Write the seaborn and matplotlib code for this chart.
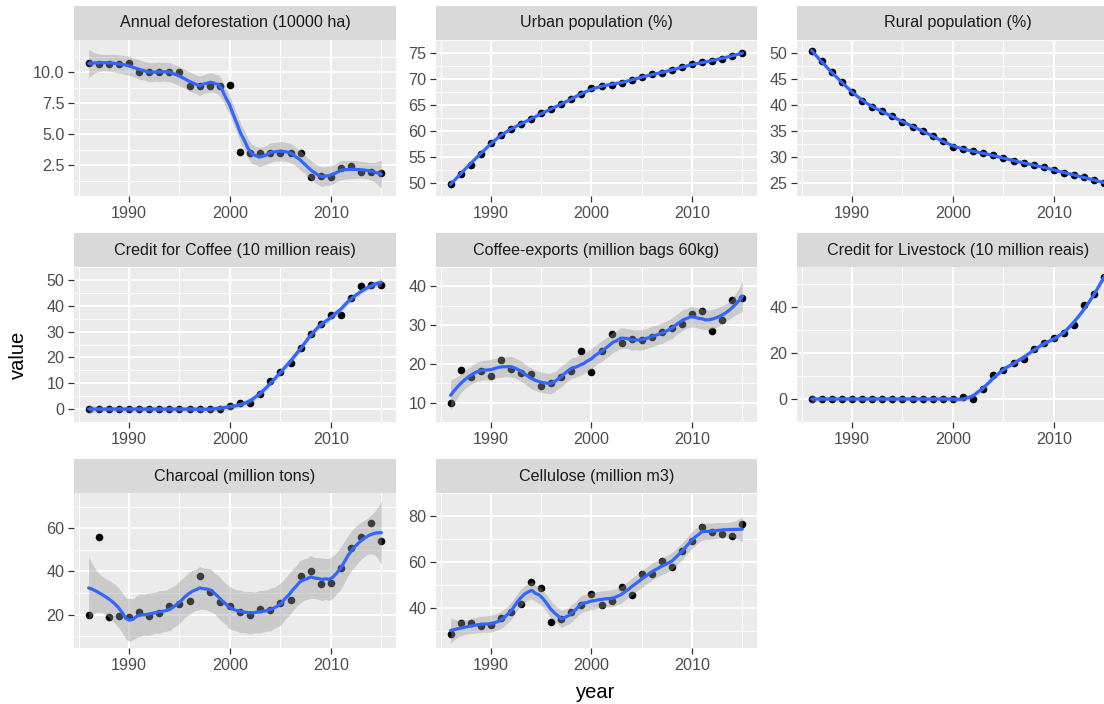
import numpy as np
import pandas as pd
import matplotlib
matplotlib.use("Agg")
import matplotlib.pyplot as plt
import seaborn as sns

# ---------------- data ----------------
years = list(range(1986, 2016))

titles = [
    "Annual deforestation (10000 ha)",
    "Urban population (%)",
    "Rural population (%)",
    "Credit for Coffee (10 million reais)",
    "Coffee-exports (million bags 60kg)",
    "Credit for Livestock (10 million reais)",
    "Charcoal (million tons)",
    "Cellulose (million m3)",
]

deforestation = [10.75, 10.7, 10.7, 10.7, 10.75, 10.0, 10.0, 10.0, 10.0, 10.05,
                 8.9, 8.9, 8.9, 8.9, 8.95, 3.55, 3.5, 3.5, 3.5, 3.5,
                 3.5, 3.45, 1.56, 1.6, 1.56, 2.23, 2.4, 1.9, 1.9, 1.85]
urban = [49.8, 51.8, 53.45, 55.6, 57.6, 59.3, 60.3, 61.3, 62.3, 63.4,
         64.2, 65.2, 66.1, 67.1, 68.2, 68.6, 68.9, 69.3, 69.8, 70.4,
         70.9, 71.2, 71.7, 72.3, 72.8, 73.2, 73.5, 73.9, 74.5, 75.0]
rural = [50.4, 48.4, 46.3, 44.5, 42.5, 40.8, 39.7, 38.8, 37.8, 36.8,
         35.8, 35.0, 34.1, 33.0, 32.0, 31.6, 31.1, 30.7, 30.3, 29.8,
         29.3, 28.8, 28.5, 28.0, 27.5, 27.0, 26.5, 26.1, 25.6, 25.0]
coffee_credit = [0, 0, 0, 0, 0, 0, 0, 0, 0, 0, 0, 0, 0, 0,
                 1.2, 2.2, 2.5, 5.7, 10.8, 14.3, 18.0, 23.5, 28.9, 32.8,
                 36.6, 36.6, 42.9, 47.8, 48.2, 48.2]
coffee_exports = [10.0, 18.4, 16.7, 18.1, 16.9, 21.1, 18.8, 17.7, 17.3, 14.2,
                  15.1, 16.6, 18.1, 23.2, 17.8, 23.2, 27.8, 25.4, 26.3, 26.1,
                  27.0, 28.1, 29.3, 30.2, 33.0, 33.7, 28.4, 31.3, 36.4, 37.0]
livestock_credit = [0, 0, 0, 0, 0, 0, 0, 0, 0, 0, 0, 0, 0, 0, 0,
                    0.8, 0.1, 4.3, 10.6, 12.6, 15.5, 17.4, 21.6, 24.4, 26.4,
                    28.6, 32.3, 40.7, 45.6, 52.9]
charcoal = [20.0, 56.1, 18.8, 19.5, 18.8, 21.4, 19.4, 20.6, 24.0, 24.9,
            26.5, 38.1, 30.3, 25.7, 24.2, 21.4, 20.0, 22.5, 22.2, 25.3,
            26.8, 38.1, 40.2, 34.4, 34.8, 41.5, 51.0, 56.1, 62.6, 54.1]
cellulose = [28.6, 33.5, 33.5, 32.2, 32.6, 35.5, 38.1, 41.7, 51.3, 48.8,
             33.9, 35.1, 38.3, 41.3, 46.1, 41.3, 43.2, 49.1, 45.8, 54.7,
             54.7, 60.5, 57.8, 64.9, 69.2, 75.3, 72.9, 72.1, 71.4, 76.4]

series = [deforestation, urban, rural, coffee_credit, coffee_exports,
          livestock_credit, charcoal, cellulose]
y_breaks = [[2.5, 5.0, 7.5, 10.0], [50, 55, 60, 65, 70, 75], [25, 30, 35, 40, 45, 50],
            [0, 10, 20, 30, 40, 50], [10, 20, 30, 40], [0, 20, 40], [20, 40, 60], [40, 60, 80]]
y_limits = [(0.0, 12.6), (48.3, 76.6), (23.7, 52.0), (-4.1, 53.2),
            (6.4, 43.1), (-3.7, 57.3), (4.6, 76.3), (22.6, 83.0)]
x_breaks = [1990, 2000, 2010]
SPAN = 0.3


# ---------------- loess (local quadratic, tricube) ----------------
def loess_operator(x, x0s, span):
    n = len(x)
    q = int(np.floor(n * span))
    rows = []
    for x0 in x0s:
        d = np.abs(x - x0)
        h = np.sort(d)[q - 1] * 1.0001
        u = np.clip(d / h, 0, 1)
        w = (1 - u ** 3) ** 3
        X = np.column_stack([np.ones(n), x - x0, (x - x0) ** 2])
        XtW = X.T * w
        A = XtW @ X
        rows.append(np.linalg.solve(A, XtW)[0])
    return np.array(rows)


def t975(df):
    z = 1.959964
    g1 = (z ** 3 + z) / 4
    g2 = (5 * z ** 5 + 16 * z ** 3 + 3 * z) / 96
    g3 = (3 * z ** 7 + 19 * z ** 5 + 17 * z ** 3 - 15 * z) / 384
    return z + g1 / df + g2 / df ** 2 + g3 / df ** 3


def smooth(xv, yv, span=SPAN, npts=80):
    x = np.asarray(xv, float)
    y = np.asarray(yv, float)
    xs = np.linspace(x.min(), x.max(), npts)
    L = loess_operator(x, x, span)
    R = np.eye(len(x)) - L
    M = R.T @ R
    d1 = np.trace(M)
    d2 = np.trace(M @ M)
    sigma2 = np.sum((R @ y) ** 2) / d1
    Ls = loess_operator(x, xs, span)
    fit = Ls @ y
    se = np.sqrt(sigma2 * np.sum(Ls ** 2, axis=1))
    t = t975(d1 ** 2 / d2)
    return xs, fit, fit - t * se, fit + t * se


# ---------------- figure ----------------
sns.set_theme(style="darkgrid")
plt.rcParams["font.family"] = ["Liberation Sans", "DejaVu Sans"]

W, H = 1104, 704
fig = plt.figure(figsize=(W / 100, H / 100), dpi=100)
fig.patch.set_facecolor("white")

col_x = [(74, 396), (436, 757), (797, 1119)]
row_y = [(40, 196), (267, 422), (493, 648)]
strip_h = 34

FS = 11.6
for i, (title, vals) in enumerate(zip(titles, series)):
    r, c = divmod(i, 3)
    x0, x1 = col_x[c]
    y0, y1 = row_y[r]
    ax = fig.add_axes([x0 / W, 1 - y1 / H, (x1 - x0) / W, (y1 - y0) / H])
    sax = fig.add_axes([x0 / W, 1 - y0 / H, (x1 - x0) / W, strip_h / H])
    sax.set_facecolor("#D9D9D9")
    sax.set_xticks([]); sax.set_yticks([])
    for s in sax.spines.values():
        s.set_visible(False)
    sax.grid(False)
    sax.text(0.5, 0.5, title, ha="center", va="center", fontsize=FS,
             color="#1A1A1A", transform=sax.transAxes)

    df = pd.DataFrame({"year": years, "value": vals})
    xs, fit, lo, hi = smooth(df["year"], df["value"])

    ax.set_facecolor("#EBEBEB")
    sns.scatterplot(data=df, x="year", y="value", ax=ax, color="black",
                    s=30, linewidth=0, zorder=3, legend=False)
    ax.fill_between(xs, lo, hi, color="#999999", alpha=0.4, linewidth=0, zorder=4)
    sns.lineplot(x=xs, y=fit, ax=ax, color="#3366FF", linewidth=2.3, zorder=5)

    xmin, xmax = min(years), max(years)
    xpad = (xmax - xmin) * 0.05
    ax.set_xlim(xmin - xpad, xmax + xpad)
    ax.set_ylim(*y_limits[i])

    ax.set_xticks(x_breaks)
    ax.set_xticks([1985, 1995, 2005, 2015], minor=True)
    yb = y_breaks[i]
    ax.set_yticks(yb)
    step = yb[1] - yb[0]
    ax.set_yticks([yb[0] - step / 2] + [b + step / 2 for b in yb], minor=True)
    if i == 0:
        ax.set_yticklabels([f"{v:.1f}" for v in yb])
    else:
        ax.set_yticklabels([f"{v:g}" for v in yb])
    ax.set_xticklabels([str(v) for v in x_breaks])

    ax.grid(which="major", color="white", linewidth=1.4)
    ax.grid(which="minor", color="white", linewidth=0.7)
    ax.set_axisbelow(True)
    for s in ax.spines.values():
        s.set_visible(False)
    ax.tick_params(which="major", length=4.5, width=0.9, color="#333333",
                   labelsize=FS, labelcolor="#4D4D4D", pad=2.5, bottom=True, left=True)
    ax.tick_params(which="minor", length=0, bottom=False, left=False)
    ax.set_xlabel("")
    ax.set_ylabel("")

fig.text(18 / W, 1 - 355 / H, "value", rotation=90, ha="center", va="center",
         fontsize=14.5, color="black")
fig.text(596 / W, 1 - 692 / H, "year", ha="center", va="center",
         fontsize=14.5, color="black")

fig.savefig("out.png", dpi=100, facecolor="white")
